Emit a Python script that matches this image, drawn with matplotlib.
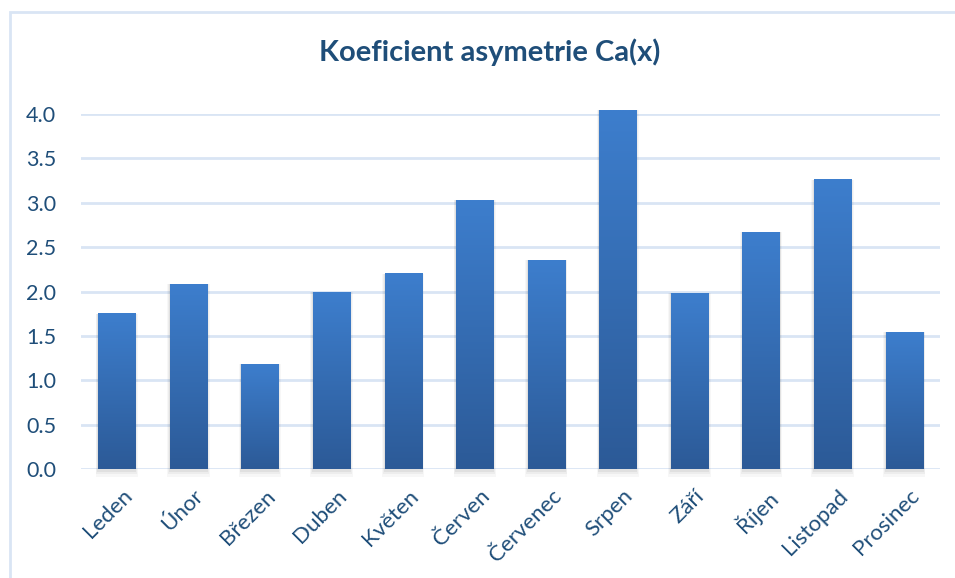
import numpy as np
import matplotlib.pyplot as plt
import matplotlib.transforms as mtransforms
from matplotlib.colors import LinearSegmentedColormap
from matplotlib.patches import Rectangle

months = ["Leden", "Únor", "Březen", "Duben", "Květen", "Červen",
          "Červenec", "Srpen", "Září", "Říjen", "Listopad", "Prosinec"]
values = [1.75, 2.08, 1.18, 1.99, 2.20, 3.03, 2.35, 4.04, 1.98, 2.67, 3.26, 1.54]
yticks = [0.0, 0.5, 1.0, 1.5, 2.0, 2.5, 3.0, 3.5, 4.0]

txt = "#1f4e79"
grid = "#d9e5f4"
cmap = LinearSegmentedColormap.from_list("bar", ["#2c5a97", "#3d7ecd"])

plt.rcParams['font.family'] = ['Lato', 'DejaVu Sans']

fig = plt.figure(figsize=(9.55, 5.78), dpi=100)
# chart-area border (only top/left visible in original)
fig.patches.append(Rectangle((10 / 955, -0.1), 1.2, 1 - 12.5 / 578 + 0.1,
                             transform=fig.transFigure, fill=False,
                             edgecolor=grid, lw=2))

ax = fig.add_axes([81 / 955, 1 - 469 / 578, (940 - 81) / 955, (469 - 114) / 578])
x = np.arange(len(months))
w = 0.52

grad = np.linspace(0, 1, 256).reshape(-1, 1)
for xi, v in zip(x, values):
    # soft shadow
    for k, a in enumerate([0.05, 0.04, 0.03]):
        d = 0.012 * (k + 1)
        ax.add_patch(Rectangle((xi - w / 2 - d, -0.03 * (k + 1)), w + 2 * d, v + 0.03 * (k + 1),
                               facecolor="black", alpha=a, lw=0, zorder=2, clip_on=False))
    ax.imshow(grad, extent=[xi - w / 2, xi + w / 2, 0, v], origin="lower",
              aspect="auto", cmap=cmap, zorder=3, clip_on=False)

ax.set_xlim(-0.5, len(months) - 0.5)
ax.set_ylim(0, 4.0)
ax.set_yticks(yticks)
ax.set_yticklabels([f"{t:.1f}" for t in yticks])
ax.set_xticks(x)
ax.set_xticklabels(months, rotation=45, ha="right", rotation_mode="anchor")
ax.yaxis.grid(True, color=grid, lw=2)
ax.set_axisbelow(True)
for s in ax.spines.values():
    s.set_visible(False)
ax.tick_params(axis="y", length=0, colors=txt, labelsize=15.5, pad=18)
ax.tick_params(axis="x", length=0, colors=txt, labelsize=16, pad=12)

# nudge rotated labels a bit to the right, like the original
shift = mtransforms.ScaledTranslation(5 / 100, 0, fig.dpi_scale_trans)
for lbl in ax.get_xticklabels():
    lbl.set_transform(lbl.get_transform() + shift)

fig.text(490 / 955, 1 - 52 / 578, "Koeficient asymetrie Ca(x)", ha="center", va="center",
         fontsize=21, fontweight="bold", color=txt)

fig.savefig("out.png", dpi=100)
